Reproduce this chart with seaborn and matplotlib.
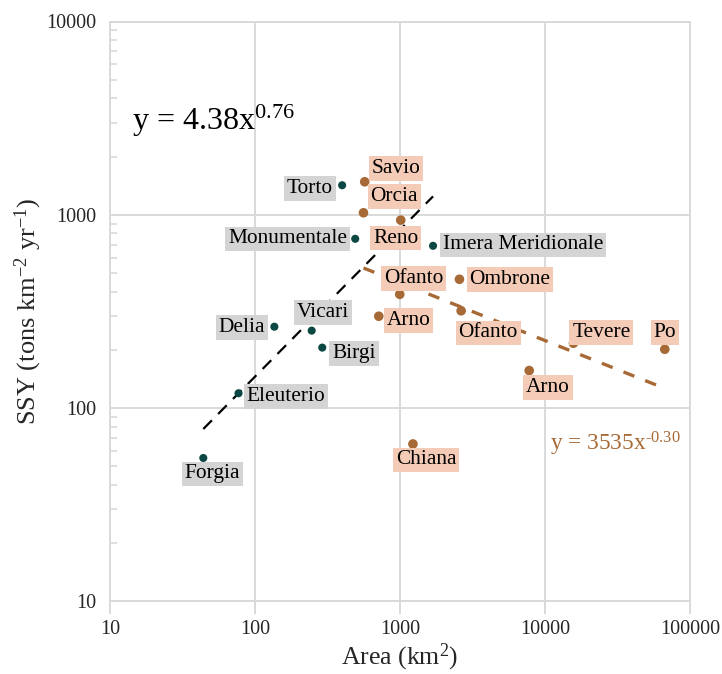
import numpy as np
import pandas as pd
import matplotlib
matplotlib.use("Agg")
import matplotlib.pyplot as plt
import seaborn as sns
from matplotlib.ticker import FixedLocator, FixedFormatter, LogLocator, NullFormatter

# Sicilian basins
sic_names = ["Torto", "Monumentale", "Imera Meridionale", "Delia", "Vicari",
             "Birgi", "Eleuterio", "Forgia"]
sic_area = [399, 491, 1690, 136, 246, 291, 77, 44]
sic_ssy = [1420, 750, 690, 263, 251, 205, 119, 55]

# Other Italian basins
ita_names = ["Savio", "Orcia", "Reno", "Ofanto", "Ombrone", "Arno", "Ofanto",
             "Tevere", "Po", "Arno", "Chiana"]
ita_area = [571, 560, 1012, 996, 2570, 714, 2640, 15700, 67000, 7780, 1228]
ita_ssy = [1480, 1023, 937, 387, 463, 298, 318, 216, 201, 156, 65]

# Power-law fits  y = a * x^b
sic_fit = (4.38, 0.76)
ita_fit = (3535, -0.30)

x_ticks = [10, 100, 1000, 10000, 100000]
y_ticks = [10, 100, 1000, 10000]

GREEN = "#0b4843"
BROWN = "#a76a37"
GREY_BOX = "#d4d4d4"
PEACH_BOX = "#f3cbb6"
GRID = "#d9d9d9"

sns.set_style("white")
plt.rcParams["font.family"] = ["Liberation Serif", "DejaVu Serif"]
plt.rcParams["mathtext.fontset"] = "custom"
plt.rcParams["mathtext.rm"] = "Liberation Serif"
plt.rcParams["mathtext.it"] = "Liberation Serif"

sic = pd.DataFrame({"name": sic_names, "area": sic_area, "ssy": sic_ssy})
ita = pd.DataFrame({"name": ita_names, "area": ita_area, "ssy": ita_ssy})

fig = plt.figure(figsize=(7.22, 6.74), dpi=100)
ax = fig.add_axes([110 / 722, 1 - 601 / 674, 580 / 722, 579.5 / 674])
ax.set_xscale("log")
ax.set_yscale("log")
ax.set_xlim(10, 100000)
ax.set_ylim(10, 10000)

ax.grid(True, which="major", color=GRID, lw=1.4, zorder=0)
for s in ax.spines.values():
    s.set_color(GRID)
    s.set_linewidth(1.4)

# trend lines over each group's area range
def fit_curve(df, fit):
    xs = np.array([min(df["area"]), max(df["area"])], dtype=float)
    return pd.DataFrame({"area": xs, "ssy": fit[0] * xs ** fit[1]})

c1 = fit_curve(sic, sic_fit)
c2 = fit_curve(ita, ita_fit)
sns.lineplot(data=c1, x="area", y="ssy", ax=ax, color="black", lw=1.6, zorder=3)
ax.lines[-1].set_dashes([5.5, 4])
sns.lineplot(data=c2, x="area", y="ssy", ax=ax, color=BROWN, lw=2.4, zorder=3)
ax.lines[-1].set_dashes([3.5, 3.5])

sns.scatterplot(data=sic, x="area", y="ssy", ax=ax, color=GREEN, s=34,
                edgecolor="none", zorder=4)
sns.scatterplot(data=ita, x="area", y="ssy", ax=ax, color=BROWN, s=48,
                edgecolor="none", zorder=4)

# label placement (pixel offsets from each point)
sic_off = [(-9, -3, "right"), (-8, 0, "right"), (10, 1, "left"), (-9, -1, "right"),
           (11, 18, "center"), (10, -6, "left"), (8, -3, "left"), (9, -16, "center")]
ita_off = [(7, 13, "left"), (7, 16, "left"), (-5, -18, "center"), (14, 16, "center"),
           (10, 0, "left"), (8, -4, "left"), (27, -22, "center"), (28, 11, "center"),
           (0, 17, "center"), (19, -17, "center"), (13, -16, "center")]

def add_labels(df, offs, box):
    for (name, x, y), (dx, dy, ha) in zip(df[["name", "area", "ssy"]].values, offs):
        ax.annotate(name, (x, y), xytext=(dx, dy), textcoords="offset pixels",
                    ha=ha, va="center", fontsize=15.4, color="black", zorder=5,
                    bbox=dict(boxstyle="square,pad=0.13", fc=box, ec="none"))

add_labels(sic, sic_off, GREY_BOX)
add_labels(ita, ita_off, PEACH_BOX)

ax.text(0.038, 0.828, "y = %.2fx$^{%.2f}$" % sic_fit, transform=ax.transAxes,
        fontsize=23, ha="left", va="center", color="black")
ax.text(0.759, 0.271, "y = %dx$^{\\text{-}%.2f}$" % (ita_fit[0], -ita_fit[1]),
        transform=ax.transAxes, fontsize=16.8, ha="left", va="center", color=BROWN)

ax.xaxis.set_major_locator(FixedLocator(x_ticks))
ax.xaxis.set_major_formatter(FixedFormatter([str(t) for t in x_ticks]))
ax.xaxis.set_minor_locator(FixedLocator([]))
ax.yaxis.set_major_locator(FixedLocator(y_ticks))
ax.yaxis.set_major_formatter(FixedFormatter([str(t) for t in y_ticks]))
ax.yaxis.set_minor_locator(LogLocator(base=10, subs=np.arange(2, 10)))
ax.yaxis.set_minor_formatter(NullFormatter())
ax.tick_params(axis="x", which="major", direction="out", length=9, width=1.4,
               color=GRID, labelsize=14.5, pad=5, bottom=True)
ax.tick_params(axis="y", which="major", direction="out", length=0, width=1.4,
               color=GRID, labelsize=14.5, pad=10, left=True)
ax.tick_params(axis="y", which="minor", direction="in", length=5, width=1.2,
               color=GRID, left=True)

ax.set_xlabel("Area (km$^{2}$)", fontsize=18.5)
ax.set_ylabel("SSY (tons km$^{-2}$ yr$^{-1}$)", fontsize=19)
ax.xaxis.label.set_va("center")
ax.xaxis.set_label_coords(0.5, -0.098)
ax.yaxis.label.set_va("center")
ax.yaxis.set_label_coords(-0.141, 0.5)

fig.savefig("out.png", dpi=100)
